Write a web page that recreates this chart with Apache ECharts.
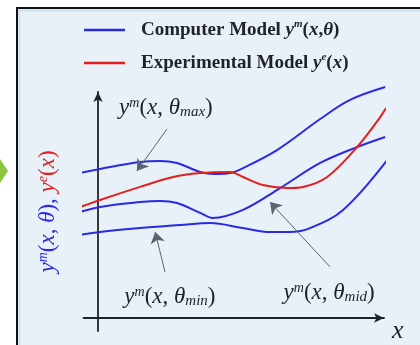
<!DOCTYPE html>
<html>
<head>
<meta charset="utf-8">
<script src="https://cdn.jsdelivr.net/npm/echarts@6/dist/echarts.min.js"></script>
<style>html,body{margin:0;padding:0;background:#fff;}#c{width:420px;height:345px;}</style>
</head>
<body>
<div id="c"></div>
<script>
// ---- data (arbitrary units) ----
var seriesNames = ['Computer Model', 'Experimental Model'];

var xMax = [-0.83, 0.07, 1.45, 2.14, 2.72, 3.52, 4.03, 4.55, 5.0, 6.17, 7.66, 8.69, 9.90];
var yMax = [6.26, 6.48, 6.78, 6.83, 6.74, 6.35, 6.26, 6.30, 6.52, 7.30, 8.65, 9.48, 10.04];

var xMid = [-0.86, 0.07, 1.45, 2.14, 2.72, 3.52, 3.95, 5.0, 6.28, 7.66, 8.93, 9.90];
var yMid = [4.52, 4.83, 5.04, 5.09, 5.00, 4.57, 4.35, 4.70, 5.65, 6.74, 7.43, 7.87];

var xMin = [-0.86, 0.07, 1.45, 2.83, 3.86, 5.0, 5.93, 6.62, 7.31, 8.45, 9.97];
var yMin = [3.57, 3.74, 3.91, 4.04, 4.13, 3.91, 3.74, 3.74, 3.91, 4.70, 6.87];

var xExp = [-0.79, 0.07, 1.45, 2.59, 3.52, 4.55, 5.0, 5.69, 6.52, 7.07, 7.90, 8.93, 9.66, 9.93];
var yExp = [4.74, 5.13, 5.70, 6.13, 6.30, 6.35, 6.13, 5.78, 5.65, 5.70, 6.13, 7.43, 8.61, 9.13];

// annotation anchor points [x, y]
var labelMaxPos = [2.34, 9.13];
var labelMinPos = [2.48, 0.91];
var labelMidPos = [7.97, 1.09];
var arrowMax = [[2.38, 8.22], [1.34, 6.39]];
var arrowMin = [[2.31, 2.00], [1.97, 3.74]];
var arrowMid = [[8.00, 2.22], [5.93, 5.04]];

var xRange = [-0.5, 9.86];
var yRange = [-0.565, 9.826];

function zip(xs, ys) { return xs.map(function (x, i) { return [x, ys[i]]; }); }

var BLUE = '#2a2ae6';
var RED = '#e31e1e';
var INK = '#1f2328';
var SERIF = 'Liberation Serif';

var annRich = {
  n: { fontFamily: SERIF, fontSize: 23, color: INK },
  i: { fontFamily: SERIF, fontSize: 23, fontStyle: 'italic', color: INK },
  s: { fontFamily: SERIF, fontSize: 14, fontStyle: 'italic', color: INK, verticalAlign: 'top', lineHeight: 14 },
  b: { fontFamily: SERIF, fontSize: 15, fontStyle: 'italic', color: INK, verticalAlign: 'bottom', lineHeight: 12 }
};
function annText(sub) {
  return '{i|y}{s|m}{n|(}{i|x}{n|, }{i|θ}{b|' + sub + '}{n|)}';
}
function mp(pos, sub) {
  return {
    coord: pos, symbol: 'circle', symbolSize: 0,
    label: { show: true, position: 'inside', formatter: annText(sub), rich: annRich }
  };
}

var legRich = {
  g: { width: 11 },
  t: { fontFamily: SERIF, fontSize: 19, fontWeight: 'bold', color: INK, lineHeight: 22 },
  i: { fontFamily: SERIF, fontSize: 19, fontWeight: 'bold', fontStyle: 'italic', color: INK, lineHeight: 22 },
  s: { fontFamily: SERIF, fontSize: 11, fontWeight: 'bold', fontStyle: 'italic', color: INK, verticalAlign: 'top', lineHeight: 11 }
};
var legendText = {
  'Computer Model': '{g| }{t|Computer Model }{i|y}{s|m}{t|(}{i|x}{t|,}{i|θ}{t|)}',
  'Experimental Model': '{g| }{t|Experimental Model }{i|y}{s|e}{t|(}{i|x}{t|)}'
};
function legend(name, top) {
  return {
    data: [name], left: 84, top: top, orient: 'vertical', padding: 0,
    icon: 'rect', itemWidth: 41, itemHeight: 2.5, selectedMode: false,
    formatter: function (n) { return legendText[n]; },
    textStyle: { rich: legRich }
  };
}

var chart = echarts.init(document.getElementById('c'), null, { renderer: 'canvas' });
var lineBase = { type: 'line', smooth: 0.35, showSymbol: false, symbol: 'none', clip: false, silent: true };

chart.setOption({
  animation: false,
  graphic: [
    { type: 'rect', z: -10, shape: { x: 17, y: 8, width: 420, height: 350 },
      style: { fill: '#e8f0f8', stroke: '#111', lineWidth: 2 } },
    { type: 'rect', z: -9, shape: { x: 19.5, y: 10.5, width: 420, height: 350 },
      style: { fill: 'none', stroke: '#d3e2f1', lineWidth: 2 } },
    { type: 'polygon', z: -10, shape: { points: [[0, 159], [8, 171], [0, 183]] },
      style: { fill: '#8cc63f' } }
  ],
  legend: [legend(seriesNames[0], 19), legend(seriesNames[1], 52)],
  grid: { left: 83.5, right: 36, top: 92, bottom: 14 },
  xAxis: {
    type: 'value', min: xRange[0], max: xRange[1],
    axisLine: { onZero: true, symbol: ['none', 'arrow'], symbolSize: [7, 10], lineStyle: { color: INK, width: 1.8 } },
    axisTick: { show: false }, axisLabel: { show: false }, splitLine: { show: false },
    name: 'x', nameLocation: 'end', nameGap: 8,
    nameTextStyle: { fontFamily: SERIF, fontStyle: 'italic', fontSize: 26, color: INK, verticalAlign: 'top', padding: [0, 0, 0, 0] }
  },
  yAxis: {
    type: 'value', min: yRange[0], max: yRange[1],
    axisLine: { onZero: true, symbol: ['none', 'arrow'], symbolSize: [7, 10], lineStyle: { color: INK, width: 1.8 } },
    axisTick: { show: false }, axisLabel: { show: false }, splitLine: { show: false },
    name: '{bi|y}{bs|m}{bn|(}{bi|x}{bn|, }{bi|θ}{bn|), }{ri|y}{rs|e}{rn|(}{ri|x}{rn|)}',
    nameLocation: 'middle', nameGap: 24, nameRotate: 90,
    nameTextStyle: {
      rich: {
        bn: { fontFamily: SERIF, fontSize: 23, color: BLUE },
        bi: { fontFamily: SERIF, fontSize: 23, fontStyle: 'italic', color: BLUE },
        bs: { fontFamily: SERIF, fontSize: 14, fontStyle: 'italic', color: BLUE, verticalAlign: 'top', lineHeight: 14 },
        rn: { fontFamily: SERIF, fontSize: 23, color: RED },
        ri: { fontFamily: SERIF, fontSize: 23, fontStyle: 'italic', color: RED },
        rs: { fontFamily: SERIF, fontSize: 14, fontStyle: 'italic', color: RED, verticalAlign: 'top', lineHeight: 14 }
      }
    }
  },
  series: [
    Object.assign({}, lineBase, {
      name: seriesNames[0], data: zip(xMax, yMax), color: BLUE, lineStyle: { color: BLUE, width: 2 },
      markPoint: { silent: true, data: [mp(labelMaxPos, 'max'), mp(labelMinPos, 'min'), mp(labelMidPos, 'mid')] },
      markLine: {
        silent: true, symbol: ['none', 'arrow'], symbolSize: 11,
        label: { show: false },
        lineStyle: { color: '#5a6470', width: 1, type: 'solid' },
        itemStyle: { color: '#2b3440' },
        data: [
          [{ coord: arrowMax[0] }, { coord: arrowMax[1] }],
          [{ coord: arrowMin[0] }, { coord: arrowMin[1] }],
          [{ coord: arrowMid[0] }, { coord: arrowMid[1] }]
        ]
      }
    }),
    Object.assign({}, lineBase, { name: seriesNames[0], data: zip(xMid, yMid), color: BLUE, lineStyle: { color: BLUE, width: 2 } }),
    Object.assign({}, lineBase, { name: seriesNames[0], data: zip(xMin, yMin), color: BLUE, lineStyle: { color: BLUE, width: 2 } }),
    Object.assign({}, lineBase, { name: seriesNames[1], data: zip(xExp, yExp), color: RED, lineStyle: { color: RED, width: 2 }, z: 3 })
  ]
});
</script>
</body>
</html>
